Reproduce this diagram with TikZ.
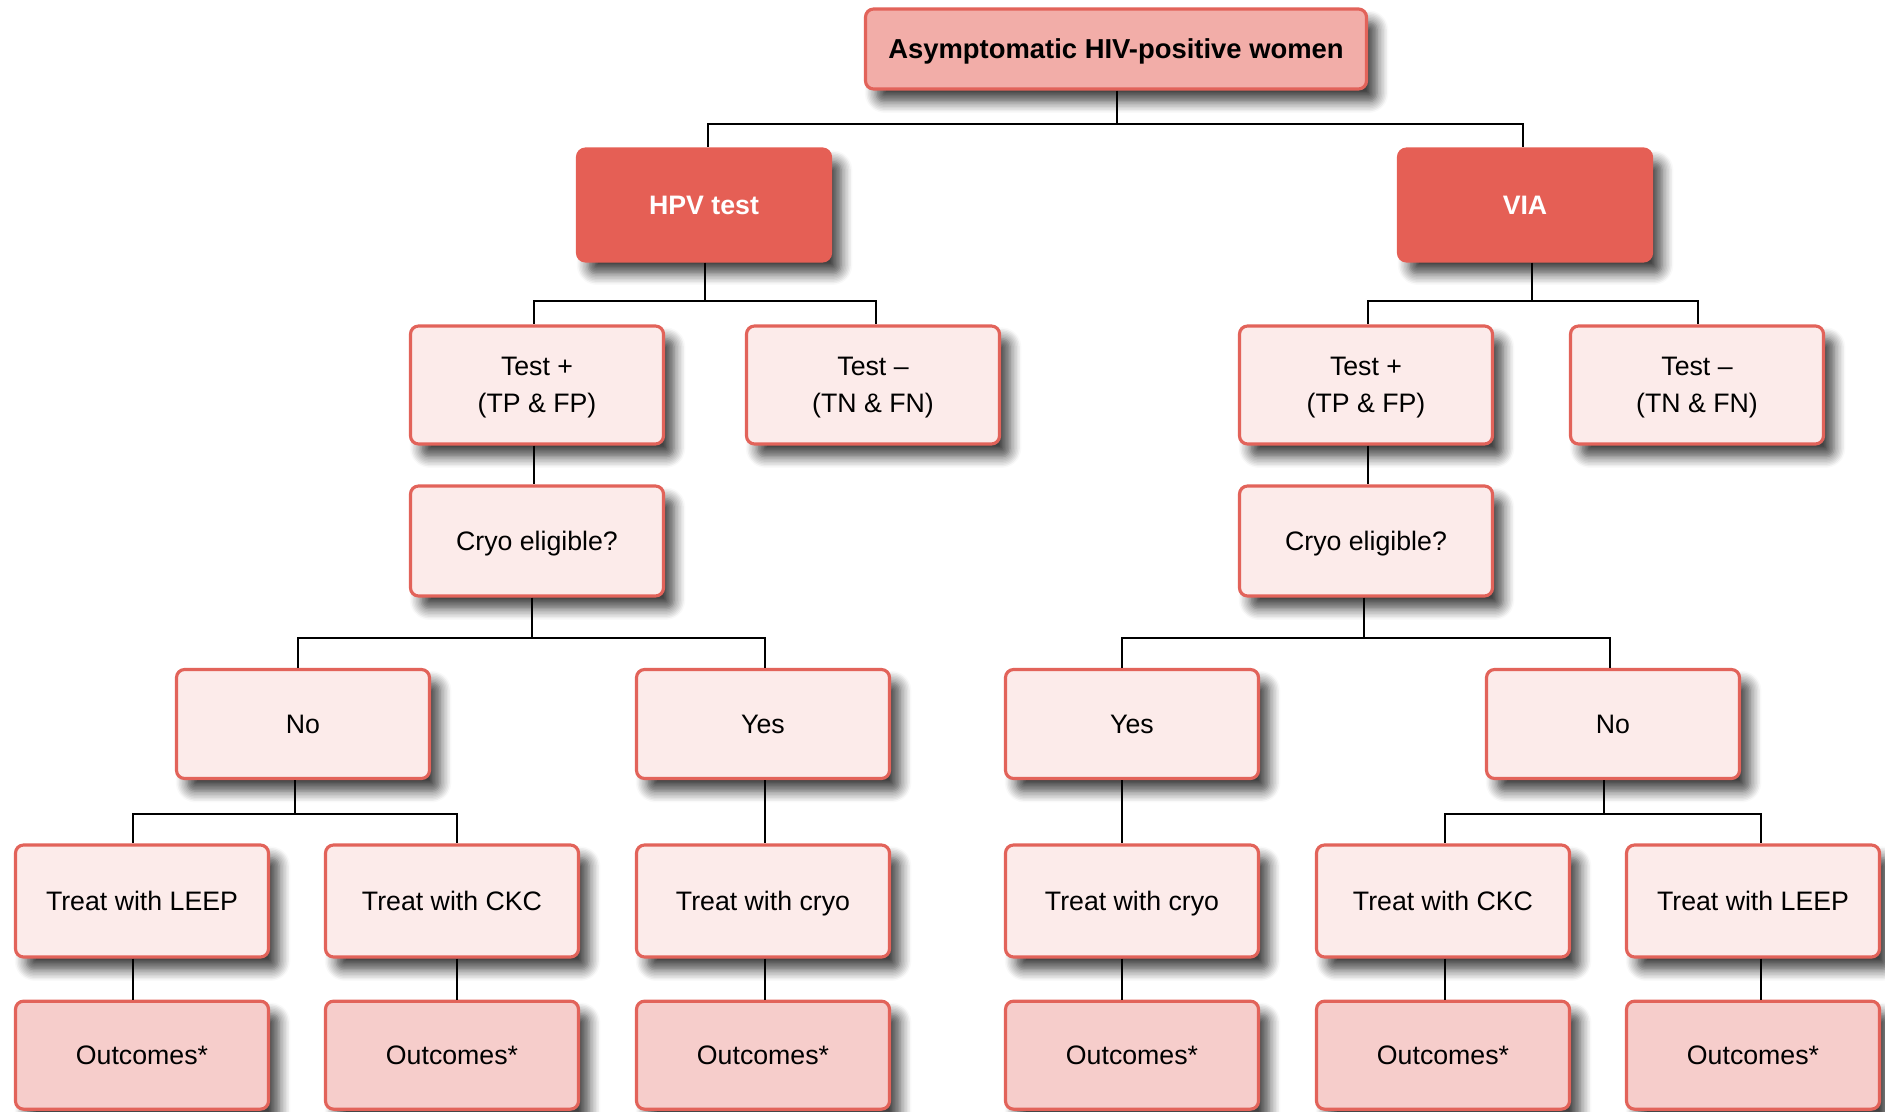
\documentclass[tikz,border=0pt]{standalone}
\usepackage{fontspec}
\setmainfont{Liberation Sans}
\usepackage{tikz}
\usetikzlibrary{shapes,positioning,shadows,shadows.blur}
\definecolor{edgered}{HTML}{E2635A}
\definecolor{darkred}{HTML}{E55F55}
\definecolor{pinkfill}{HTML}{F2ADA8}
\definecolor{palefill}{HTML}{FCEBEA}
\definecolor{outfill}{HTML}{F6CDCB}
\tikzstyle{caja} = [rectangle, rounded corners=2.3pt, draw=edgered, line width=0.9pt, fill=palefill, minimum width=2.53cm, align=center, text height=0.73em, text depth=0.2em, font=\fontsize{7.6}{11}\selectfont, blur shadow={shadow xshift=3pt, shadow yshift=-3.6pt, shadow blur radius=3.2pt, shadow blur steps=8, shadow opacity=75}]
\tikzstyle{doble} = [caja, text height=, text depth=-2.5pt, minimum height=1.18cm, font=\fontsize{7.6}{10.4}\selectfont]
\tikzstyle{raiz} = [caja, fill=pinkfill, minimum width=5.01cm, minimum height=0.8cm, font=\fontsize{7.8}{11}\selectfont\bfseries]
\tikzstyle{prueba} = [caja, fill=darkred, draw=darkred, text=white, minimum height=1.12cm, font=\fontsize{7.6}{11}\selectfont\bfseries]
\tikzstyle{resultado} = [caja, fill=outfill, minimum height=1.08cm]
\tikzstyle{linea} = [line width=0.6pt, black]
\begin{document}
\begin{tikzpicture}
\useasboundingbox (0,0) rectangle (18.85,-11.12);
% raiz y pruebas
\node[raiz] (women) at (11.16,-0.49) {Asymptomatic HIV-positive women};
\node[prueba] (hpv) at (7.04,-2.05) {HPV test};
\node[prueba] (via) at (15.25,-2.05) {VIA};
% resultados de la prueba
\node[doble] (hpvpos) at (5.37,-3.85) {Test +\\(TP \& FP)};
\node[doble] (hpvneg) at (8.73,-3.85) {Test --\\(TN \& FN)};
\node[doble] (viapos) at (13.66,-3.85) {Test +\\(TP \& FP)};
\node[doble] (vianeg) at (16.97,-3.85) {Test --\\(TN \& FN)};
% elegibilidad
\node[caja, minimum height=1.10cm] (hpvcryo) at (5.37,-5.41) {Cryo eligible?};
\node[caja, minimum height=1.10cm] (viacryo) at (13.66,-5.41) {Cryo eligible?};
\node[caja, minimum height=1.09cm] (hpvno) at (3.03,-7.24) {No};
\node[caja, minimum height=1.09cm] (hpvyes) at (7.63,-7.24) {Yes};
\node[caja, minimum height=1.09cm] (viayes) at (11.32,-7.24) {Yes};
\node[caja, minimum height=1.09cm] (viano) at (16.13,-7.24) {No};
% tratamientos
\node[caja, minimum height=1.12cm] (leepa) at (1.42,-9.01) {Treat with LEEP};
\node[caja, minimum height=1.12cm] (ckca) at (4.52,-9.01) {Treat with CKC};
\node[caja, minimum height=1.12cm] (cryoa) at (7.63,-9.01) {Treat with cryo};
\node[caja, minimum height=1.12cm] (cryob) at (11.32,-9.01) {Treat with cryo};
\node[caja, minimum height=1.12cm] (ckcb) at (14.43,-9.01) {Treat with CKC};
\node[caja, minimum height=1.12cm] (leepb) at (17.53,-9.01) {Treat with LEEP};
% outcomes (el tallo no va centrado)
\foreach \t/\dx in {leepa/-0.09,ckca/0.05,cryoa/0.02,cryob/-0.10,ckcb/0.02,leepb/0.08}{
  \node[resultado, below=0.41cm of \t] (out\t) {Outcomes*};
  \draw[linea] ([xshift=\dx cm]\t.south) -- ([xshift=\dx cm]out\t.north);
}
% conectores
\draw[linea] ([xshift=0.01cm]women.south) -- ++(0,-0.33) -| ([xshift=0.04cm]hpv.north);
\draw[linea] ([xshift=0.01cm]women.south) ++(0,-0.33) -| ([xshift=-0.02cm]via.north);
\draw[linea] ([xshift=0.01cm]hpv.south) -- ++(0,-0.38) -| ([xshift=-0.03cm]hpvpos.north);
\draw[linea] ([xshift=0.01cm]hpv.south) ++(0,-0.38) -| ([xshift=0.03cm]hpvneg.north);
\draw[linea] ([xshift=0.07cm]via.south) -- ++(0,-0.38) -| ([xshift=0.02cm]viapos.north);
\draw[linea] ([xshift=0.07cm]via.south) ++(0,-0.38) -| ([xshift=0.01cm]vianeg.north);
\draw[linea] ([xshift=-0.03cm]hpvpos.south) -- ([xshift=-0.03cm]hpvcryo.north);
\draw[linea] ([xshift=0.02cm]viapos.south) -- ([xshift=0.02cm]viacryo.north);
\draw[linea] ([xshift=-0.05cm]hpvcryo.south) -- ++(0,-0.40) -| ([xshift=-0.05cm]hpvno.north);
\draw[linea] ([xshift=-0.05cm]hpvcryo.south) ++(0,-0.40) -| ([xshift=0.02cm]hpvyes.north);
\draw[linea] ([xshift=-0.02cm]viacryo.south) -- ++(0,-0.40) -| ([xshift=-0.10cm]viayes.north);
\draw[linea] ([xshift=-0.02cm]viacryo.south) ++(0,-0.40) -| ([xshift=-0.03cm]viano.north);
\draw[linea] ([xshift=-0.08cm]hpvno.south) -- ++(0,-0.34) -| ([xshift=-0.09cm]leepa.north);
\draw[linea] ([xshift=-0.08cm]hpvno.south) ++(0,-0.34) -| ([xshift=0.05cm]ckca.north);
\draw[linea] ([xshift=0.02cm]hpvyes.south) -- ([xshift=0.02cm]cryoa.north);
\draw[linea] ([xshift=-0.10cm]viayes.south) -- ([xshift=-0.10cm]cryob.north);
\draw[linea] ([xshift=-0.09cm]viano.south) -- ++(0,-0.34) -| ([xshift=0.02cm]ckcb.north);
\draw[linea] ([xshift=-0.09cm]viano.south) ++(0,-0.34) -| ([xshift=0.08cm]leepb.north);
\end{tikzpicture}
\end{document}
